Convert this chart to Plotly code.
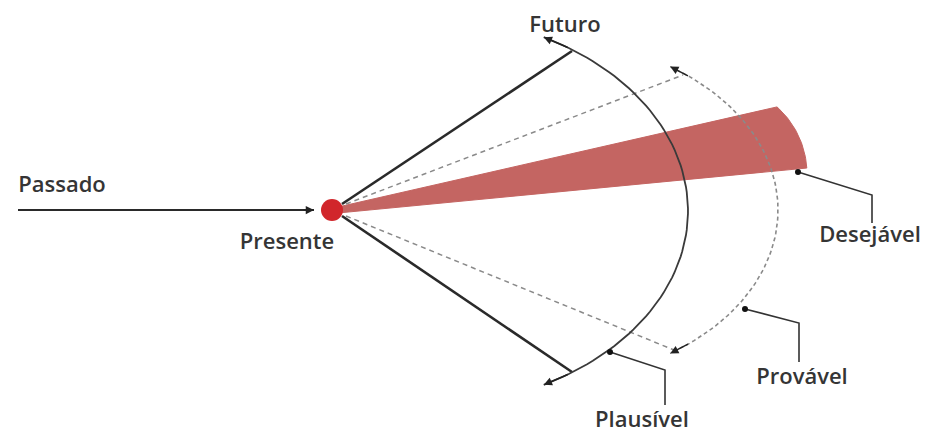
import numpy as np
import plotly.graph_objects as go

W, H = 932, 436
PAGE_MARGIN = 8  # browser default body margin; figure is sized to fit inside

# ---- diagram data (pixel-space coordinates of the schematic) ----
presente = (332, 210)

passado_x = [18, 314]
passado_y = [210, 210]

cone_top_x = [342, 572]
cone_top_y = [204, 51]
cone_bot_x = [342, 572]
cone_bot_y = [216, 372]

dash_top_x = [346, 683]
dash_top_y = [204, 75]
dash_bot_x = [346, 674]
dash_bot_y = [216, 350]

# solid arc (Plausível boundary): ellipse centre, semi-axes, angle span (deg)
arc_center = (420, 211)
arc_axes = (268, 196)
arc_span = (-62.5, 62.5)

# dashed arc (Provável boundary)
darc_center = (545, 210)
darc_axes = (233, 170)
darc_span = (-57.5, 57.5)

# red wedge (Desejável): apex, outer arc circle centre / radius / angle span
wedge_apex_top = (338, 207)
wedge_apex_bot = (338, 213)
wedge_arc_center = (717, 174)
wedge_arc_radius = 90
wedge_arc_span = (-48.2, -3.8)

# pointers (dot, elbow, end)
ptr_des_x = [798, 872, 872]
ptr_des_y = [172, 195, 223]
ptr_pro_x = [745, 799, 799]
ptr_pro_y = [309, 323, 362]
ptr_pla_x = [610, 665, 665]
ptr_pla_y = [352, 370, 405]

labels = ["Passado", "Presente", "Futuro", "Desejável", "Provável", "Plausível"]
label_x = [62, 287, 565, 870, 802, 642]
label_y = [186, 243, 26, 236, 378, 421]

ink = "#2a2a2a"
grey = "#8a8a8a"
red_fill = "#c46562"
dot_red = "#d1262b"
text_col = "#353535"


def ellipse_pts(center, axes, span, n=80):
    t = np.radians(np.linspace(span[0], span[1], n))
    return center[0] + axes[0] * np.cos(t), center[1] + axes[1] * np.sin(t)


arc_px, arc_py = ellipse_pts(arc_center, arc_axes, arc_span)
darc_px, darc_py = ellipse_pts(darc_center, darc_axes, darc_span)
w_ax, w_ay = ellipse_pts(wedge_arc_center, (wedge_arc_radius, wedge_arc_radius),
                         wedge_arc_span, 30)
wedge_x = np.concatenate([[wedge_apex_top[0]], w_ax, [wedge_apex_bot[0]]])
wedge_y = np.concatenate([[wedge_apex_top[1]], w_ay, [wedge_apex_bot[1]]])

fig = go.Figure()

fig.add_trace(go.Scatter(x=wedge_x, y=wedge_y, mode="lines", fill="toself",
                         fillcolor=red_fill, line=dict(color=red_fill, width=1),
                         hoverinfo="skip"))

fig.add_trace(go.Scatter(x=passado_x, y=passado_y, mode="lines",
                         line=dict(color=ink, width=1.8), hoverinfo="skip"))
for xs, ys in [(cone_top_x, cone_top_y), (cone_bot_x, cone_bot_y)]:
    fig.add_trace(go.Scatter(x=xs, y=ys, mode="lines",
                             line=dict(color=ink, width=2.6), hoverinfo="skip"))
for xs, ys in [(dash_top_x, dash_top_y), (dash_bot_x, dash_bot_y)]:
    fig.add_trace(go.Scatter(x=xs, y=ys, mode="lines",
                             line=dict(color=grey, width=1.5, dash="5px,4px"),
                             hoverinfo="skip"))

fig.add_trace(go.Scatter(x=arc_px, y=arc_py, mode="lines",
                         line=dict(color="#3a3a3a", width=1.8), hoverinfo="skip"))
fig.add_trace(go.Scatter(x=darc_px, y=darc_py, mode="lines",
                         line=dict(color=grey, width=1.6, dash="4px,3px"),
                         hoverinfo="skip"))

for xs, ys in [(ptr_des_x, ptr_des_y), (ptr_pro_x, ptr_pro_y), (ptr_pla_x, ptr_pla_y)]:
    fig.add_trace(go.Scatter(x=xs, y=ys, mode="lines",
                             line=dict(color="#333333", width=1.6), hoverinfo="skip"))
    fig.add_trace(go.Scatter(x=[xs[0]], y=[ys[0]], mode="markers",
                             marker=dict(color="#111111", size=6), hoverinfo="skip"))

fig.add_trace(go.Scatter(x=[presente[0]], y=[presente[1]], mode="markers",
                         marker=dict(color=dot_red, size=22, line=dict(width=0)),
                         hoverinfo="skip"))

fig.add_trace(go.Scatter(x=label_x, y=label_y, mode="text", text=labels,
                         cliponaxis=False,
                         textfont=dict(family="Open Sans", size=22, color=text_col,
                                       weight=600),
                         hoverinfo="skip"))

# arrowheads: Passado arrow and both ends of each arc
tips = [(passado_x[1], passado_y[1]),
        (arc_px[0], arc_py[0]), (arc_px[-1], arc_py[-1]),
        (darc_px[0], darc_py[0]), (darc_px[-1], darc_py[-1])]
tails = [(passado_x[1] - 12, passado_y[1]),
         (arc_px[4], arc_py[4]), (arc_px[-5], arc_py[-5]),
         (darc_px[4], darc_py[4]), (darc_px[-5], darc_py[-5])]
for (tx, ty), (sx, sy) in zip(tips, tails):
    fig.add_annotation(x=tx, y=ty, ax=sx, ay=sy, xref="x", yref="y",
                       axref="x", ayref="y", text="", showarrow=True,
                       arrowhead=2, arrowsize=1.1, arrowwidth=1.5,
                       arrowcolor="#222222")

fig.update_layout(
    width=W - PAGE_MARGIN, height=H - PAGE_MARGIN, autosize=False,
    margin=dict(l=0, r=0, t=0, b=0),
    paper_bgcolor="white", plot_bgcolor="white",
    showlegend=False,
    xaxis=dict(range=[PAGE_MARGIN, W], visible=False, fixedrange=True),
    yaxis=dict(range=[H, PAGE_MARGIN], visible=False, fixedrange=True),
)

fig.write_html("out.html", config={"displayModeBar": False})
